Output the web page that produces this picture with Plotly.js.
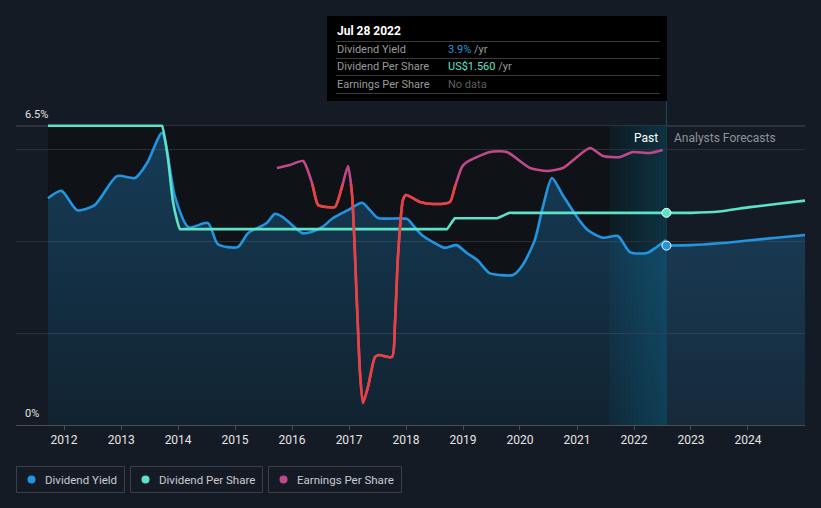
<!DOCTYPE html>
<html><head><meta charset="utf-8">
<script src="https://cdn.plot.ly/plotly-3.0.1.min.js"></script>
<style>html,body{margin:0;padding:0;background:#151b24;}#chart{width:821px;height:508px;}</style>
</head><body><div id="chart"></div>
<script>
// ---- data ----
const yieldDates = ['2011-09-20','2011-12-16','2012-03-25','2012-07-15','2012-12-05','2013-04-01','2013-06-17','2013-09-20','2013-12-12','2014-03-07','2014-07-12','2014-09-13','2015-01-19','2015-03-25','2015-07-23','2015-09-13','2015-11-03','2016-03-07','2016-05-08','2016-07-12','2016-09-20','2016-12-24','2017-03-25','2017-05-15','2017-07-05','2018-01-08','2018-02-13','2018-04-12','2018-06-20','2018-09-05','2018-11-20','2019-01-26','2019-04-01','2019-06-20','2019-08-25','2019-11-17','2020-01-19','2020-04-05','2020-05-27','2020-07-24','2020-10-01','2021-01-01','2021-03-10','2021-06-17','2021-09-20','2021-12-05','2022-03-25','2022-05-27','2022-07-25'];
const yieldPast = [4.93,5.09,4.67,4.78,5.41,5.37,5.70,6.35,4.96,4.30,4.39,3.93,3.87,4.17,4.39,4.59,4.52,4.17,4.20,4.30,4.50,4.67,4.83,4.67,4.50,4.48,4.35,4.13,3.98,3.85,3.91,3.74,3.59,3.30,3.26,3.26,3.48,4.02,4.74,5.37,5.00,4.52,4.24,4.07,4.11,3.76,3.74,3.87,4.02];
const yieldFcDates = ['2022-07-28','2023-01-01','2023-07-01','2024-01-01','2024-07-01','2025-01-01'];
const yieldFc = [3.90,3.91,3.95,4.01,4.07,4.13];

const dpsDates = ['2011-09-20','2013-06-01','2013-09-08','2013-09-20','2013-10-27','2013-11-28','2013-12-24','2014-01-13','2014-02-05','2014-04-01','2018-07-01','2018-09-08','2018-09-20','2018-11-10','2018-11-25','2019-01-15','2019-06-01','2019-07-25','2019-08-07','2019-10-27','2019-11-12','2020-01-01','2022-07-28','2023-01-01','2023-07-01','2024-01-01','2024-07-01','2025-01-01'];
const dps = [2.20,2.20,2.20,2.20,1.97,1.65,1.51,1.44,1.44,1.44,1.44,1.44,1.44,1.52,1.52,1.52,1.52,1.52,1.52,1.56,1.56,1.56,1.56,1.56,1.57,1.60,1.625,1.65];

const epsDates = ['2015-09-26','2015-12-18','2016-03-12','2016-05-08','2016-06-16','2016-08-06','2016-10-03','2016-11-16','2016-12-25','2017-01-20','2017-02-21','2017-03-12','2017-03-31','2017-05-02','2017-06-16','2017-07-11','2017-10-03','2017-10-22','2017-11-10','2017-12-12','2018-01-01','2018-04-01','2018-06-23','2018-10-09','2018-11-10','2018-12-25','2019-01-26','2019-06-23','2019-10-09','2020-03-05','2020-06-23','2020-10-03','2021-03-25','2021-06-16','2021-10-03','2021-12-25','2022-04-12','2022-07-04'];
const eps = [2.57,2.60,2.64,2.42,2.20,2.18,2.18,2.38,2.59,2.30,1.18,0.52,0.22,0.38,0.68,0.70,0.68,1.02,1.68,2.25,2.30,2.23,2.21,2.23,2.38,2.58,2.63,2.73,2.73,2.57,2.54,2.57,2.77,2.69,2.68,2.73,2.72,2.75];

const yearLabels = ['2012','2013','2014','2015','2016','2017','2018','2019','2020','2021','2022','2023','2024'];
const yLabels = ['0%','6.5%'];
const yLabelVals = [0, 6.5];
const today = '2022-07-28';
const todayLabel = 'Jul 28 2022';
const pastStart = '2021-07-28';
const tipYield = '3.9%';
const tipDps = 'US$1.560';
const tipEps = 'No data';
const seriesNames = ['Dividend Yield','Dividend Per Share','Earnings Per Share'];

// ---- styling ----
const C_BLUE = '#2394df', C_TEAL = '#5de2c8', C_MAG = '#c2488c', C_RED = '#e8423f';
const L = 16, R = 805, T = 116, B = 425;
const px = x => (x - L) / (R - L);
const py = y => (B - y) / (B - T);
const yMax = 6.5 * (B - T) / (B - 126);
const dpsMax = (B - T) / 136;
const epsMax = (B - T) / 100;
const epsSplit = 2.41;
const splitDomain = epsSplit / epsMax;

const fillGrad = {type: 'vertical', start: 0, stop: 6.5,
  colorscale: [[0, 'rgba(35,150,225,0.12)'], [1, 'rgba(35,150,225,0.32)']]};

const traces = [
  {x: yieldDates, y: yieldPast, type: 'scatter', mode: 'lines', fill: 'tozeroy', fillgradient: fillGrad,
   line: {color: C_BLUE, width: 2.6, shape: 'spline', smoothing: 0.7}, hoverinfo: 'skip'},
  {x: yieldFcDates, y: yieldFc, type: 'scatter', mode: 'lines', fill: 'tozeroy', fillgradient: fillGrad,
   line: {color: C_BLUE, width: 2.6, shape: 'spline', smoothing: 0.7}, hoverinfo: 'skip'},
  {x: dpsDates, y: dps, yaxis: 'y2', type: 'scatter', mode: 'lines',
   line: {color: C_TEAL, width: 2.6, shape: 'spline', smoothing: 0.5}, hoverinfo: 'skip'},
  {x: epsDates, y: eps, yaxis: 'y3', type: 'scatter', mode: 'lines',
   line: {color: C_MAG, width: 2.6, shape: 'spline', smoothing: 0.6}, hoverinfo: 'skip'},
  {x: epsDates, y: eps, yaxis: 'y4', type: 'scatter', mode: 'lines',
   line: {color: C_RED, width: 2.6, shape: 'spline', smoothing: 0.6}, hoverinfo: 'skip'},
  {x: [today], y: [dps[dpsDates.indexOf(today)]], yaxis: 'y2', type: 'scatter', mode: 'markers',
   marker: {color: C_TEAL, size: 9, line: {color: '#ffffff', width: 1}}, hoverinfo: 'skip', cliponaxis: false},
  {x: [today], y: [yieldFc[0]], type: 'scatter', mode: 'markers',
   marker: {color: C_BLUE, size: 9, line: {color: '#ffffff', width: 1}}, hoverinfo: 'skip', cliponaxis: false}
];

const shapes = [];
// past dark background
shapes.push({type: 'rect', xref: 'x', yref: 'y', x0: yieldDates[0], x1: today, y0: 0, y1: 6.5,
  fillcolor: '#0f1318', line: {width: 0}, layer: 'below'});
// gradient band for the last year
const t0 = Date.parse(pastStart), t1 = Date.parse(today), n = 14;
const iso = ms => new Date(ms).toISOString().replace('T', ' ').slice(0, 19);
for (let i = 0; i < n; i++) {
  const a = 0.07 + (0.26 - 0.07) * (i + 0.5) / n;
  shapes.push({type: 'rect', xref: 'x', yref: 'y', x0: iso(t0 + (t1 - t0) * i / n), x1: iso(t0 + (t1 - t0) * (i + 1) / n),
    y0: 0, y1: 6.5, fillcolor: 'rgba(8,145,190,' + a.toFixed(3) + ')', line: {width: 0}, layer: 'below'});
}
// top gridline 6.5
shapes.push({type: 'line', xref: 'paper', yref: 'y', x0: 0, x1: 1, y0: 6.5, y1: 6.5,
  line: {color: '#474c55', width: 1}, layer: 'below'});
// hover line
shapes.push({type: 'line', xref: 'x', yref: 'paper', x0: today, x1: today, y0: 0, y1: py(101),
  line: {color: '#1d4a5f', width: 1}, layer: 'below'});
// tooltip box
shapes.push({type: 'rect', xref: 'paper', yref: 'paper', x0: px(327), x1: px(667), y0: py(101), y1: py(16),
  fillcolor: '#000000', line: {width: 0}, layer: 'above'});
[41.5, 58.5, 75.5, 93.5].forEach(yy => shapes.push({type: 'line', xref: 'paper', yref: 'paper',
  x0: px(336), x1: px(660), y0: py(yy), y1: py(yy), line: {color: '#3a3a3a', width: 1}, layer: 'above'}));
// legend boxes
const legBoxes = [[16, 125], [130, 263], [268, 402]];
const legColors = [C_BLUE, C_TEAL, C_MAG];
legBoxes.forEach((b, i) => {
  shapes.push({type: 'rect', xref: 'paper', yref: 'paper', x0: px(b[0] + 0.5), x1: px(b[1] - 0.5), y0: py(492.5), y1: py(466.5),
    line: {color: '#3a3f49', width: 1}, fillcolor: 'rgba(0,0,0,0)'});
  shapes.push({type: 'circle', xref: 'paper', yref: 'paper', x0: px(b[0] + 11.5), x1: px(b[0] + 19.5), y0: py(483.5), y1: py(475.5),
    fillcolor: legColors[i], line: {width: 0}});
});

const F = 'Roboto, "Open Sans", sans-serif';
const annotations = [];
yLabels.forEach((t, i) => annotations.push({text: t, xref: 'paper', yref: 'y', x: px(23), y: yLabelVals[i], yshift: 11.5,
  xanchor: 'left', yanchor: 'middle', showarrow: false, font: {family: F, size: 11, color: '#e2e2e2'}}));
annotations.push({text: 'Past', xref: 'x', yref: 'paper', x: today, xshift: -6, y: py(138), xanchor: 'right', yanchor: 'middle',
  showarrow: false, font: {family: F, size: 12, color: '#ffffff'}});
annotations.push({text: 'Analysts Forecasts', xref: 'x', yref: 'paper', x: today, xshift: 6, y: py(138), xanchor: 'left', yanchor: 'middle',
  showarrow: false, font: {family: F, size: 12, color: '#8d939c'}});
// tooltip texts
annotations.push({text: '<b>' + todayLabel + '</b>', xref: 'paper', yref: 'paper', x: px(335), y: py(31), xanchor: 'left', yanchor: 'middle',
  showarrow: false, font: {family: F, size: 12, color: '#ffffff', weight: 500}});
const tipRows = [
  [seriesNames[0], '<span style="color:' + C_BLUE + '">' + tipYield + '</span> /yr', 49.5],
  [seriesNames[1], '<span style="color:' + C_TEAL + '">' + tipDps + '</span> /yr', 66.5],
  [seriesNames[2], '<span style="color:#5f5f5f">' + tipEps + '</span>', 84.5]
];
tipRows.forEach(r => {
  annotations.push({text: r[0], xref: 'paper', yref: 'paper', x: px(335), y: py(r[2]), xanchor: 'left', yanchor: 'middle',
    showarrow: false, font: {family: F, size: 11, color: '#9a9a9a'}});
  annotations.push({text: r[1], xref: 'paper', yref: 'paper', x: px(446), y: py(r[2]), xanchor: 'left', yanchor: 'middle',
    showarrow: false, font: {family: F, size: 11, color: '#9a9a9a'}});
});
// legend texts
legBoxes.forEach((b, i) => annotations.push({text: seriesNames[i], xref: 'paper', yref: 'paper', x: px(b[0] + 27), y: py(479.5),
  xanchor: 'left', yanchor: 'middle', showarrow: false, font: {family: F, size: 11.5, color: '#c9ccd1'}}));

const layout = {
  width: 821, height: 508, autosize: false,
  margin: {l: L, r: 821 - R, t: T, b: 508 - B},
  paper_bgcolor: '#151b24', plot_bgcolor: 'rgba(0,0,0,0)',
  showlegend: false, hovermode: false,
  font: {family: F, color: '#e6e6e6'},
  xaxis: {type: 'date', range: ['2011-02-27', '2025-01-01'], tickvals: yearLabels.map(y => y + '-01-01'), ticktext: yearLabels,
    ticks: 'outside', ticklen: 4, tickcolor: '#4a4f57', showline: true, linecolor: '#4a4f57', linewidth: 1,
    showgrid: false, zeroline: false, tickfont: {family: F, size: 12, color: '#e6e6e6'}, anchor: 'y', fixedrange: true},
  yaxis: {range: [0, yMax], tickvals: [2, 4, 6], showticklabels: false, gridcolor: '#2a2f38', gridwidth: 1,
    zeroline: false, showline: false, ticks: '', fixedrange: true, domain: [0, 1]},
  yaxis2: {overlaying: 'y', range: [0, dpsMax], visible: false, fixedrange: true},
  yaxis3: {overlaying: 'y', range: [0, epsMax], visible: false, fixedrange: true},
  yaxis4: {anchor: 'x', domain: [0, splitDomain], range: [0, epsSplit], visible: false, fixedrange: true, showgrid: false},
  shapes: shapes, annotations: annotations
};

Plotly.newPlot('chart', traces, layout, {displayModeBar: false, staticPlot: true});
</script>
</body></html>
